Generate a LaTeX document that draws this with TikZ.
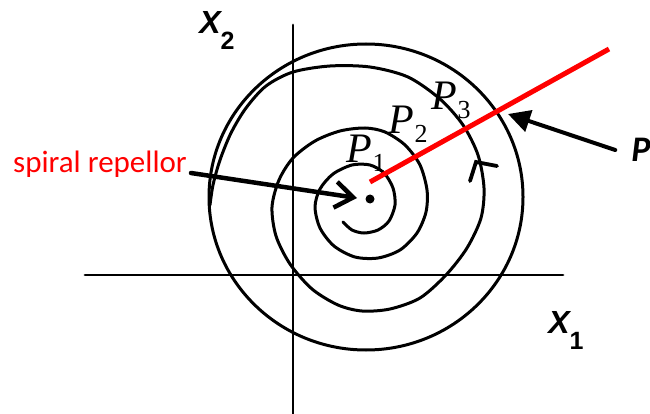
\documentclass[tikz,border=0pt]{standalone}
\usepackage{fontspec}
\setmainfont{Liberation Serif}
\newfontfamily\calfont{Carlito}
\newfontfamily\axfont{Liberation Sans}
\usetikzlibrary{arrows.meta}
\definecolor{repred}{RGB}{255,0,0}
\newcommand{\plab}[1]{{\fontsize{42}{42}\selectfont\itshape P}\kern0.5pt\raisebox{-9pt}{\fontsize{26}{26}\selectfont #1}}
\newcommand{\xlab}[1]{{\axfont\bfseries\itshape\fontsize{32}{32}\selectfont X}\raisebox{-16pt}{\axfont\bfseries\fontsize{25}{25}\selectfont #1}}

\begin{document}
\begin{tikzpicture}[x=1pt,y=-1pt,line cap=round]
  \tikzset{curve/.style={line width=3pt}, axis/.style={line width=2.8pt}}
  \useasboundingbox (0,0) rectangle (650,414);
  \draw[axis] (293,25) -- (293,414);
  \draw[axis] (85,275) -- (563,275);
  \draw[curve] (366,197) ellipse [x radius=157pt, y radius=153pt];
  \draw[curve] plot[smooth] coordinates {(343,222) (352,230) (364,233) (378,230)
    (389,221) (395,205) (393,188) (384,173) (370,165) (352,165) (333,174)
    (320,189) (315,207) (320,228) (334,246) (355,257) (378,258) (400,250)
    (417,233) (426,212) (427,190) (420,165) (405,145) (385,132) (365,128)
    (340,131) (315,141) (293,158) (279,180) (272,207) (276,236) (290,264)
    (312,289) (338,305) (362,311) (390,309) (420,298) (446,275) (467,248)
    (481,218) (484,188) (478,155) (463,125) (440,99) (408,77) (370,67)
    (330,66) (293,72) (266,86) (246,108) (231,133) (220,160) (213,185) (210,205)};
  \draw[line width=3.8pt] (470,181) -- (476,162) -- (497,166);
  \fill (370,199) circle (4.5pt);
  \draw[repred, line width=5pt, line cap=butt] (370,182) -- (609,49);
  \coordinate (fix) at (357,198);
  \coordinate (ptip) at (508,114);
  \node[repred, font=\calfont\fontsize{31}{31}\selectfont, inner sep=4pt, anchor=base] (rep) at (100,173) {spiral repellor};
  \node[inner xsep=16pt] (plab) at (641,150) {\calfont\bfseries\itshape\fontsize{36}{36}\selectfont P};
  \draw[line width=4.5pt, -{Straight Barb[length=18pt, width=26pt]}] (rep.base east) -- (fix);
  \draw[line width=4pt, -{Triangle[length=22pt, width=22pt]}] (plab.west) -- (ptip);
  \node at (366,153) {\plab{1}};
  \node at (408,124) {\plab{2}};
  \node at (451,100) {\plab{3}};
  \node at (217,30) {\xlab{2}};
  \node at (566,330) {\xlab{1}};
\end{tikzpicture}
\end{document}
